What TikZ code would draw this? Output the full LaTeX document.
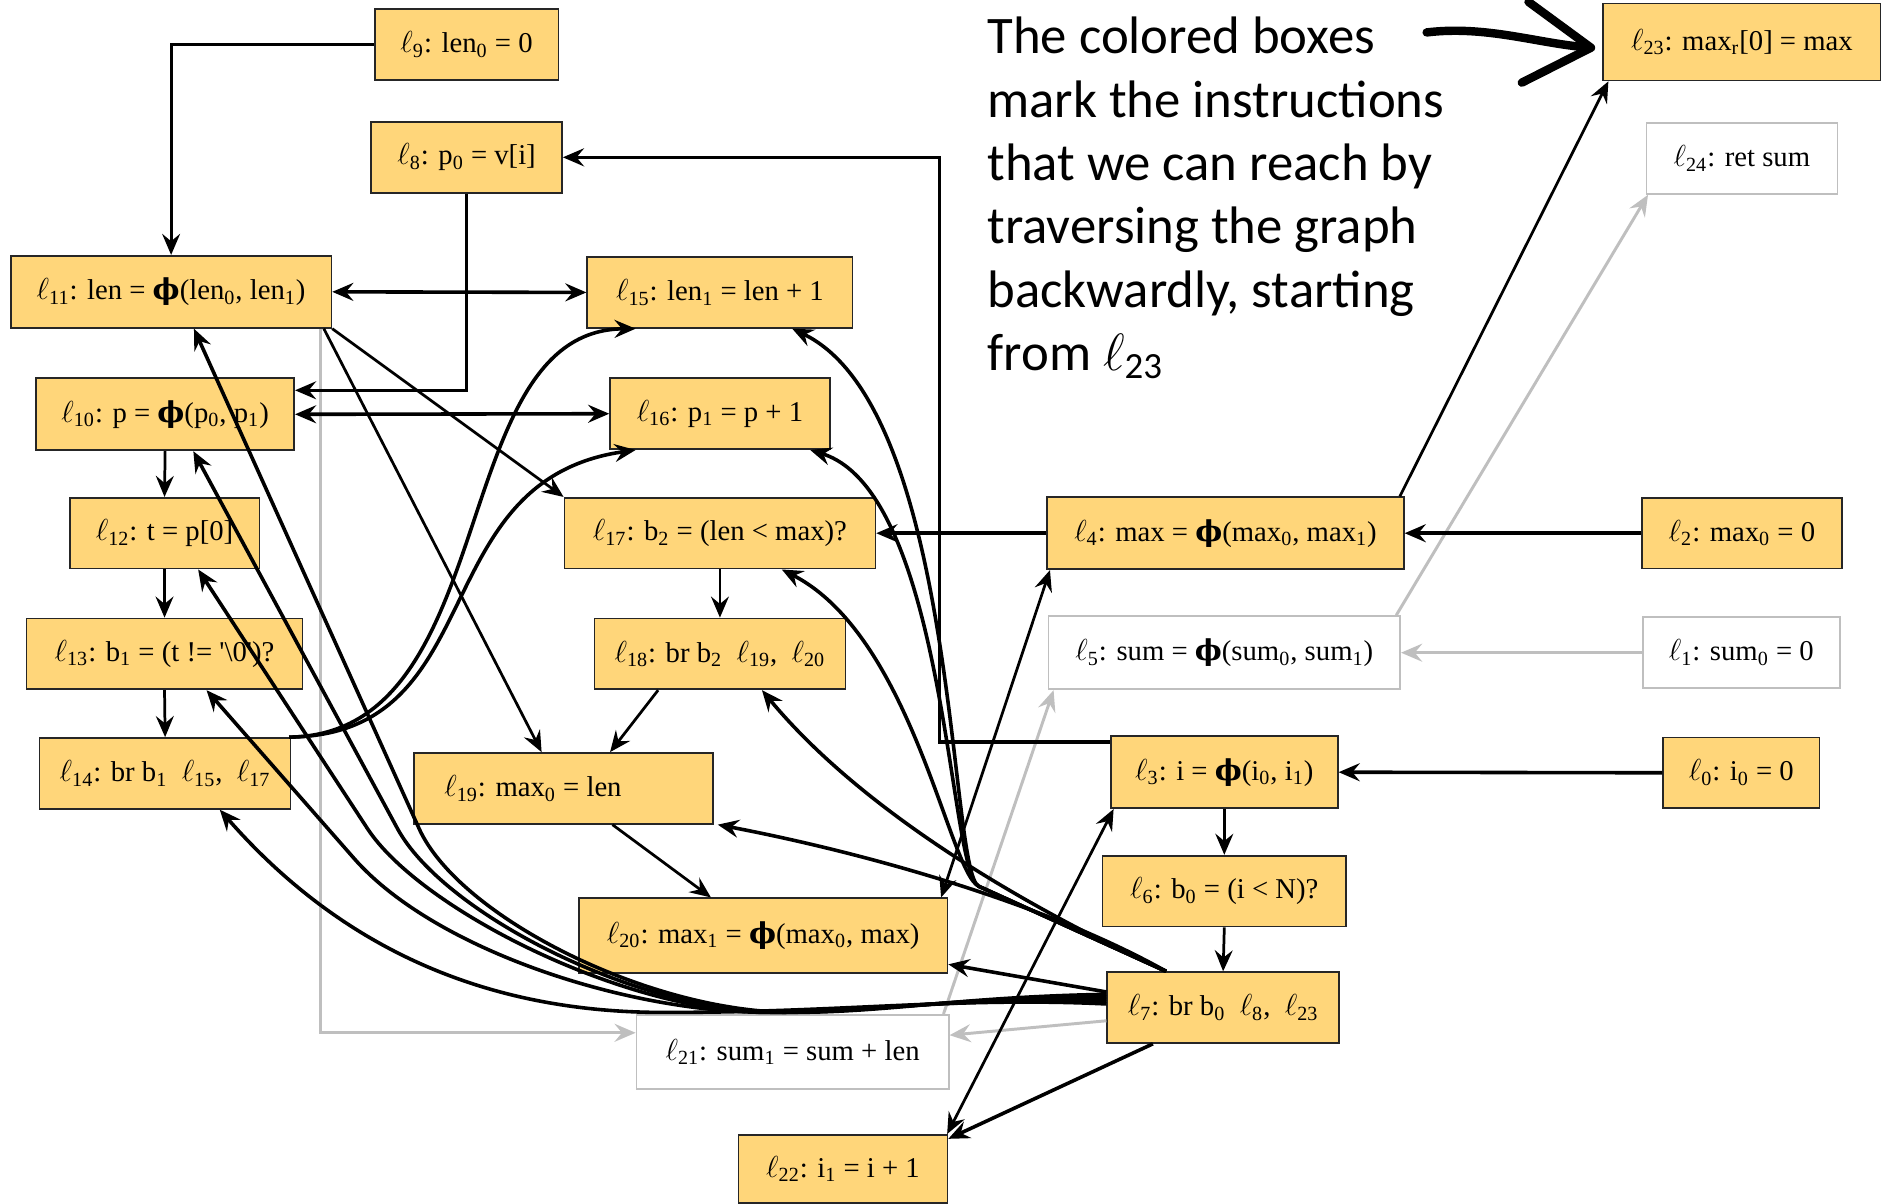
\documentclass[tikz,border=0pt]{standalone}
\usepackage{fontspec}
\setmainfont{Liberation Serif}
\newfontfamily\notefont{Carlito}
\newfontfamily\phifont{DejaVu Serif}
\usetikzlibrary{arrows.meta}
\definecolor{boxfill}{RGB}{255,214,122}
\newcommand{\lbl}[1]{$\ell$\textsubscript{#1}}
\newcommand{\ix}[1]{\textsubscript{#1}}
\newcommand{\phifn}{{\phifont\bfseries ϕ}}

\begin{document}
\begin{tikzpicture}[x=0.02cm, y=-0.02cm, >={Stealth[length=10pt,width=8.5pt,inset=3.5pt]},
    box/.style={draw=black!85, line width=0.8pt, fill=boxfill, inner sep=0pt,
      minimum height=1.18cm, font=\fontsize{13.6}{16}\selectfont},
    idle/.style={box, draw=black!25, fill=white},
    link/.style={->, line width=1.3pt},
    heavy/.style={->, line width=1.7pt},
    faded/.style={->, line width=1.4pt, draw=black!25},
    note/.style={font=\notefont\fontsize{25}{30}\selectfont, align=left, inner sep=0pt}]
  \useasboundingbox (0,0) rectangle (1568,1002);
  % left column
  \node[box, minimum width=3.06cm] (l9) at (388.5,37) {\lbl{9}: len\ix{0} = 0};
  \node[box, minimum width=3.18cm] (l8) at (388.5,131) {\lbl{8}: p\ix{0} = v[i]};
  \node[box, minimum width=5.34cm, minimum height=1.2cm] (l11) at (142.5,243) {\lbl{11}: len = \phifn(len\ix{0}, len\ix{1})};
  \node[box, minimum width=4.3cm, minimum height=1.2cm] (l10) at (137.5,345) {\lbl{10}: p = \phifn(p\ix{0}, p\ix{1})};
  \node[box, minimum width=3.16cm] (l12) at (137,444) {\lbl{12}: t = p[0]};
  \node[box, minimum width=4.6cm] (l13) at (137,544.5) {\lbl{13}: b\ix{1} = (t != \textquotesingle\textbackslash0\textquotesingle)?};
  \node[box, minimum width=4.18cm] (l14) at (137.5,644) {\lbl{14}: br b\ix{1}~~\lbl{15},~~\lbl{17}};
  % middle column
  \node[box, minimum width=4.42cm] (l15) at (599.5,243.5) {\lbl{15}: len\ix{1} = len + 1};
  \node[box, minimum width=3.66cm] (l16) at (599.5,344.5) {\lbl{16}: p\ix{1} = p + 1};
  \node[box, minimum width=5.18cm] (l17) at (599.5,444) {\lbl{17}: b\ix{2} = (len < max)?};
  \node[box, minimum width=4.18cm] (l18) at (599.5,544.5) {\lbl{18}: br b\ix{2}~~\lbl{19},~~\lbl{20}};
  \node[box, minimum width=4.98cm] (l19) at (469.5,656.5) {\makebox[3.98cm][l]{\lbl{19}: max\ix{0} = len}};
  \node[box, minimum width=6.14cm, minimum height=1.24cm] (l20) at (635.5,779) {\lbl{20}: max\ix{1} = \phifn(max\ix{0}, max)};
  \node[idle, minimum width=5.2cm, minimum height=1.24cm] (l21) at (660,876) {\lbl{21}: sum\ix{1} = sum + len};
  \node[box, minimum width=3.48cm, minimum height=1.14cm] (l22) at (702,973.5) {\lbl{22}: i\ix{1} = i + 1};
  % right column
  \node[box, minimum width=5.94cm, minimum height=1.2cm] (l4) at (1020.5,444) {\lbl{4}: max = \phifn(max\ix{0}, max\ix{1})};
  \node[idle, minimum width=5.86cm, minimum height=1.22cm] (l5) at (1019.5,543.5) {\lbl{5}: sum = \phifn(sum\ix{0}, sum\ix{1})};
  \node[box, minimum width=3.78cm, minimum height=1.2cm] (l3) at (1019.5,643) {\lbl{3}: i = \phifn(i\ix{0}, i\ix{1})};
  \node[box, minimum width=4.06cm] (l6) at (1019.5,742) {\lbl{6}: b\ix{0} = (i < N)?};
  \node[box, minimum width=3.86cm] (l7) at (1018.5,839) {\lbl{7}: br b\ix{0}~~\lbl{8},~~\lbl{23}};
  \node[box, minimum width=3.34cm] (l2) at (1450.5,444) {\lbl{2}: max\ix{0} = 0};
  \node[idle, minimum width=3.28cm] (l1) at (1450,543.5) {\lbl{1}: sum\ix{0} = 0};
  \node[box, minimum width=2.6cm] (l0) at (1450,643.5) {\lbl{0}: i\ix{0} = 0};
  \node[box, minimum width=4.62cm, minimum height=1.28cm] (l23) at (1450.5,35) {\lbl{23}: max\ix{r}[0] = max};
  \node[idle, minimum width=3.18cm] (l24) at (1450.5,132) {\lbl{24}: ret sum};
  % the remark
  \node[note, anchor=north west] (note) at (822,14) {The colored boxes\\mark the instructions\\that we can reach by\\traversing the graph\\backwardly, starting\\from \lbl{23}};
  \coordinate (pen) at (1188,27);
  \draw[line width=4pt, line cap=round, -{Straight Barb[length=1.1cm,width=1.35cm,round]}]
    (pen) .. controls (1237,21) and (1280,36) .. ([xshift=-0.12cm,yshift=-0.1cm]l23.west);
  % grey links
  \draw[faded] (l1.west) -- (l5.east);
  \draw[faded] ([xshift=-0.08cm]l5.north east) -- ([xshift=0.04cm]l24.south west);
  \draw[faded] ([xshift=-0.1cm]l21.north east) -- ([xshift=0.1cm]l5.south west);
  \draw[faded] ([yshift=-0.22cm]l7.west) -- ([yshift=0.28cm]l21.east);
  \draw[faded] ([xshift=-0.2cm]l11.south east) |- ([yshift=0.32cm]l21.west);
  % straight links
  \draw[link] (l9.west) -| (l11.north);
  \draw[link] (l8.south) |- ([yshift=0.4cm]l10.east);
  \draw[heavy, <->] (l11.east) -- (l15.west);
  \draw[heavy, <->] (l10.east) -- (l16.west);
  \draw[link] (l10.south) -- (l12.north);
  \draw[link] (l12.south) -- (l13.north);
  \draw[link] (l13.south) -- (l14.north);
  \draw[link] (l11.south east) -- (l17.north west);
  \draw[link] ([xshift=-0.14cm]l11.south east) -- ([xshift=-0.37cm]l19.north);
  \draw[link] (l17.south) -- (l18.north);
  \draw[link] ([xshift=-1.03cm]l18.south) -- ([xshift=0.77cm]l19.north);
  \draw[link] ([xshift=0.81cm]l19.south) -- ([xshift=-0.87cm]l20.north);
  \draw[heavy] (l4.west) -- (l17.east);
  \draw[heavy] (l2.west) -- (l4.east);
  \draw[heavy] (l0.west) -- (l3.east);
  \draw[link] (l3.south) -- (l6.north);
  \draw[link] (l6.south) -- (l7.north);
  \draw[link] ([xshift=-0.08cm]l4.north east) -- ([xshift=0.1cm]l23.south west);
  \draw[heavy] ([yshift=0.5cm]l3.west) -- ++(-142,0) |- (l8.east);
  \draw[link, <->] ([xshift=0.06cm]l4.south west) -- ([xshift=-0.12cm]l20.north east);
  \draw[link, <->] ([xshift=0.06cm]l3.south west) -- ([xshift=-0.02cm]l22.north east);
  \draw[heavy] ([xshift=-1.17cm]l7.south) -- ([yshift=-0.08cm]l22.north east);
  \draw[heavy] ([yshift=0.26cm]l7.west) -- ([yshift=-0.48cm]l20.east);
  % curves out of l14
  \draw[heavy] ([xshift=-0.04cm]l14.north east) .. controls (420,612) and (370,275) .. ([xshift=0.82cm]l15.south west);
  \draw[heavy] ([xshift=-0.04cm]l14.north east) .. controls (410,612) and (352,400) .. ([xshift=0.44cm]l16.south west);
  % bundle from l7 to the left
  \draw[heavy] ([yshift=0.06cm]l7.west) .. controls (800,830) and (700,843) .. (560,843)
    .. controls (400,845) and (280,785) .. ([xshift=0.91cm]l14.south);
  \draw[heavy] ([yshift=0.1cm]l7.west) .. controls (800,830) and (720,843) .. (640,843)
    .. controls (520,843) and (361,790) .. (295,715) -- ([xshift=0.7cm]l13.south);
  \draw[heavy] ([yshift=0.14cm]l7.west) .. controls (800,830) and (720,843) .. (640,843)
    .. controls (520,843) and (350,757) .. (306,690) -- ([xshift=0.56cm]l12.south);
  \draw[heavy] ([yshift=0.18cm]l7.west) .. controls (800,830) and (730,843) .. (650,843)
    .. controls (530,843) and (369,760) .. (331,690) -- ([xshift=0.47cm]l10.south);
  \draw[heavy] ([yshift=0.22cm]l7.west) .. controls (800,830) and (740,843) .. (660,843)
    .. controls (540,843) and (382,763) .. (349,690) -- ([xshift=0.38cm]l11.south);
  % bundle from l7 upwards
  \draw[heavy] ([xshift=-0.95cm]l7.north) .. controls (870,752) and (720,710) .. ([xshift=0.06cm]l19.south east);
  \draw[heavy] ([xshift=-0.95cm]l7.north) .. controls (890,772) and (730,690) .. ([xshift=0.7cm]l18.south);
  \draw[heavy] ([xshift=-0.95cm]l7.north) -- (815,738) .. controls (790,726) and (760,530) .. ([xshift=1.03cm]l17.south);
  \draw[heavy] ([xshift=-0.95cm]l7.north) -- (815,738) .. controls (790,726) and (788,410) .. ([xshift=-0.34cm]l16.south east);
  \draw[heavy] ([xshift=-0.95cm]l7.north) -- (815,738) .. controls (790,726) and (798,340) .. ([xshift=-1.02cm]l15.south east);
\end{tikzpicture}
\end{document}
